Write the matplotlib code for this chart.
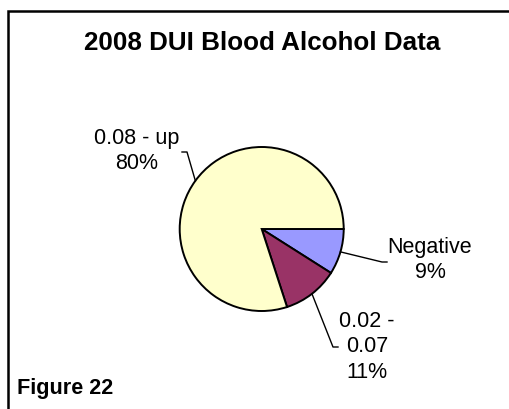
import numpy as np
import matplotlib
matplotlib.use('Agg')
import matplotlib.pyplot as plt

plt.rcParams['font.family'] = ['Liberation Sans', 'DejaVu Sans']

# data
labels = ['Negative', '0.02 -\n0.07', '0.08 - up']
values = [9, 11, 80]
colors = ['#9999FF', '#993366', '#FFFFCC']

W, H = 510, 409


def px(x, y):
    # pixel (top-left origin) -> data coords
    return x, H - y


fig = plt.figure(figsize=(W / 100, H / 100), dpi=100)
ax = fig.add_axes([0, 0, 1, 1])
ax.set_xlim(0, W)
ax.set_ylim(0, H)
ax.set_aspect('equal')
ax.axis('off')

# frame (only left and top edges visible in the crop)
ax.plot([8.5, 8.5, W + 5], [-5, H - 10.5, H - 10.5], color='black', lw=1.8,
        solid_joinstyle='miter', clip_on=False)

center = px(261.7, 229)
radius = 82
wedges, _ = ax.pie(values, colors=colors, startangle=0, counterclock=False,
                   center=center, radius=radius,
                   wedgeprops=dict(edgecolor='black', linewidth=1.4))
ax.set_xlim(0, W)
ax.set_ylim(0, H)

total = sum(values)
pct = [f'{round(v / total * 100)}%' for v in values]

# label positions (pixel), elbow, leader end
label_pos = [(430, 260), (367, 347), (137, 151)]
elbows = [(382, 262), (333, 347), (187, 152)]
ends = [(387, 262), (338, 347), (182, 152)]

for w, lab, p, pos, el, en in zip(wedges, labels, pct, label_pos, elbows, ends):
    ang = np.deg2rad((w.theta1 + w.theta2) / 2)
    sx = center[0] + radius * np.cos(ang)
    sy = center[1] + radius * np.sin(ang)
    ex, ey = px(*el)
    fx, fy = px(*en)
    ax.plot([sx, ex, fx], [sy, ey, fy], color='black', lw=1.0)
    tx, ty = px(*pos)
    ax.text(tx, ty, f'{lab}\n{p}', ha='center', va='center', fontsize=15.5,
            linespacing=1.3)

tx, ty = px(261.7, 43)
ax.text(tx, ty, '2008 DUI Blood Alcohol Data', ha='center', va='center',
        fontsize=18.7, fontweight='bold')

tx, ty = px(17, 394)
ax.text(tx, ty, 'Figure 22', ha='left', va='baseline', fontsize=15.6,
        fontweight='bold')

fig.savefig('out.png', dpi=100)
